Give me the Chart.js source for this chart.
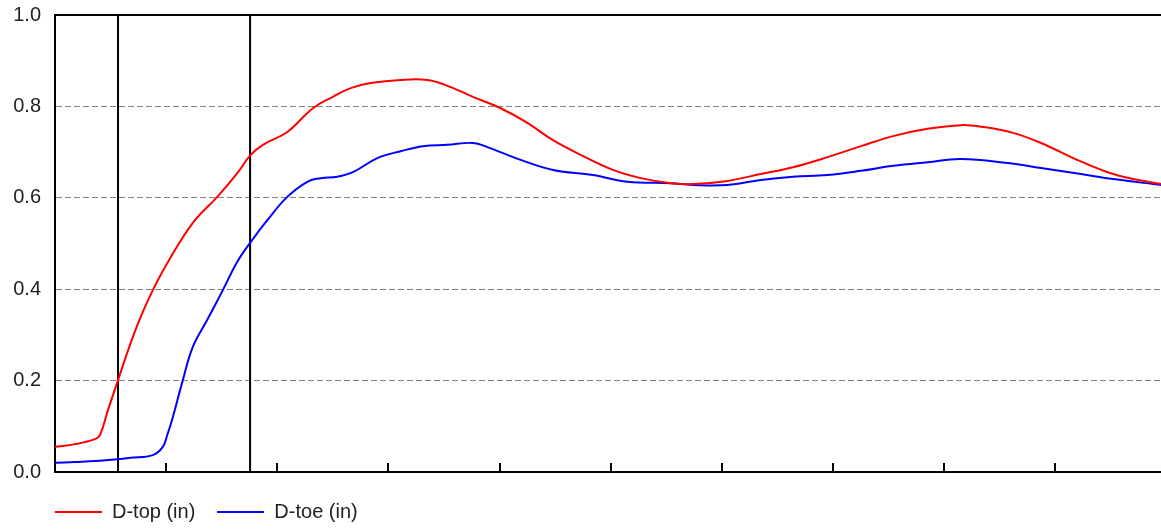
<!DOCTYPE html>
<html>
<head>
    <title>D-top / D-toe</title>
    <script src="https://cdn.jsdelivr.net/npm/chart.js"></script>
    <style>
        body { margin: 0; background: #fff; font-family: "Liberation Sans", Arial, sans-serif; }
        .wrap { position: relative; width: 1161px; height: 529px; }
        #legend { position: absolute; left: 55px; top: 500px; display: flex; align-items: center; font-size: 20px; color: #222; }
        #legend .item { display: flex; align-items: center; margin-right: 22px; }
        #legend .swatch { width: 47px; height: 2px; margin-right: 10px; }
    </style>
</head>
<body>
    <div class="wrap">
        <canvas id="chart" width="1161" height="529"></canvas>
        <div id="legend"></div>
    </div>

    <script>
        // x in tick units (ticks every 1), y in inches
        const topX = [0, 0.18, 0.36, 0.405, 0.477, 0.567, 0.68, 0.77, 0.88, 1.01, 1.24, 1.46, 1.64, 1.76, 1.87, 2.09, 2.32, 2.50, 2.66, 2.84, 3.11, 3.35, 3.51, 3.76, 4.01, 4.25, 4.48, 4.73, 5.02, 5.27, 5.54, 5.74, 6.05, 6.35, 6.64, 6.95, 7.25, 7.54, 7.85, 8.15, 8.35, 8.62, 8.87, 9.16, 9.47, 9.70, 9.95];
        const topY = [0.055, 0.061, 0.072, 0.081, 0.136, 0.201, 0.282, 0.339, 0.398, 0.457, 0.545, 0.602, 0.654, 0.694, 0.716, 0.744, 0.796, 0.821, 0.840, 0.851, 0.858, 0.858, 0.847, 0.821, 0.796, 0.764, 0.726, 0.694, 0.661, 0.643, 0.632, 0.630, 0.637, 0.652, 0.667, 0.689, 0.713, 0.735, 0.751, 0.759, 0.755, 0.742, 0.720, 0.687, 0.656, 0.641, 0.630];
        const toeX = [0, 0.18, 0.36, 0.567, 0.68, 0.88, 0.97, 1.01, 1.06, 1.15, 1.24, 1.37, 1.51, 1.64, 1.76, 1.91, 2.09, 2.27, 2.39, 2.54, 2.68, 2.90, 3.11, 3.31, 3.53, 3.76, 3.89, 4.19, 4.48, 4.84, 5.15, 5.54, 5.74, 6.05, 6.35, 6.64, 6.95, 7.25, 7.54, 7.85, 8.15, 8.57, 8.87, 9.23, 9.52, 9.95];
        const toeY = [0.020, 0.022, 0.024, 0.028, 0.031, 0.037, 0.055, 0.081, 0.120, 0.201, 0.274, 0.333, 0.398, 0.460, 0.503, 0.551, 0.602, 0.635, 0.643, 0.646, 0.656, 0.687, 0.702, 0.713, 0.716, 0.720, 0.711, 0.683, 0.661, 0.650, 0.635, 0.632, 0.628, 0.628, 0.639, 0.646, 0.650, 0.659, 0.670, 0.678, 0.685, 0.676, 0.665, 0.652, 0.641, 0.628];
        const markerX = [0.567, 1.755];
        const yTicks = [0, 0.2, 0.4, 0.6, 0.8, 1.0];
        const xMax = 9.95;

        const zip = (xs, ys) => xs.map((x, i) => ({ x: x, y: ys[i] }));

        const series = [
            { label: 'D-top (in)', color: '#ff0000', data: zip(topX, topY) },
            { label: 'D-toe (in)', color: '#0000ff', data: zip(toeX, toeY) }
        ];

        const datasets = series.map(s => ({
            label: s.label,
            data: s.data,
            borderColor: s.color,
            backgroundColor: s.color,
            borderWidth: 2,
            pointRadius: 0,
            fill: false,
            tension: 0.4
        }));
        markerX.forEach(x => datasets.push({
            label: '',
            data: [{ x: x, y: 0 }, { x: x, y: 1 }],
            borderColor: '#000',
            borderWidth: 2,
            pointRadius: 0,
            fill: false
        }));

        // frame top line + inward tick marks on the x axis
        const frame = {
            id: 'frame',
            afterDatasetsDraw(chart) {
                const { ctx, chartArea, scales } = chart;
                ctx.save();
                ctx.strokeStyle = '#000';
                ctx.lineWidth = 2;
                ctx.beginPath();
                ctx.moveTo(chartArea.left, chartArea.top);
                ctx.lineTo(chartArea.right, chartArea.top);
                for (let i = 1; i < xMax; i++) {
                    const px = Math.round(scales.x.getPixelForValue(i));
                    ctx.moveTo(px, chartArea.bottom);
                    ctx.lineTo(px, chartArea.bottom - 9);
                }
                ctx.stroke();
                ctx.restore();
            }
        };

        const ctx = document.getElementById('chart').getContext('2d');
        const chart = new Chart(ctx, {
            type: 'line',
            data: { datasets: datasets },
            options: {
                responsive: false,
                animation: false,
                layout: { padding: { top: 15, right: 0, bottom: 57, left: 0 } },
                plugins: {
                    legend: { display: false },
                    tooltip: { enabled: false }
                },
                scales: {
                    x: {
                        type: 'linear',
                        min: 0,
                        max: xMax,
                        ticks: { display: false, stepSize: 1 },
                        grid: { display: false, drawTicks: false },
                        border: { display: true, color: '#000', width: 2 }
                    },
                    y: {
                        min: 0,
                        max: 1,
                        afterFit: s => { s.width = 55; s.paddingTop = 0; s.paddingBottom = 0; },
                        afterBuildTicks: s => { s.ticks = yTicks.map(v => ({ value: v })); },
                        ticks: {
                            padding: 14,
                            color: '#222',
                            font: { family: 'Liberation Sans', size: 20 },
                            callback: v => v.toFixed(1)
                        },
                        grid: {
                            drawTicks: false,
                            lineWidth: 1,
                            color: c => (c.tick && c.tick.value > 0 && c.tick.value < 1) ? '#808080' : 'rgba(0,0,0,0)'
                        },
                        border: { display: true, color: '#000', width: 2, dash: [6, 3] }
                    }
                }
            },
            plugins: [frame]
        });

        // legend
        const legend = document.getElementById('legend');
        series.forEach(s => {
            const item = document.createElement('div');
            item.className = 'item';
            const sw = document.createElement('span');
            sw.className = 'swatch';
            sw.style.background = s.color;
            const txt = document.createElement('span');
            txt.textContent = s.label;
            item.appendChild(sw);
            item.appendChild(txt);
            legend.appendChild(item);
        });
    </script>
</body>
</html>
